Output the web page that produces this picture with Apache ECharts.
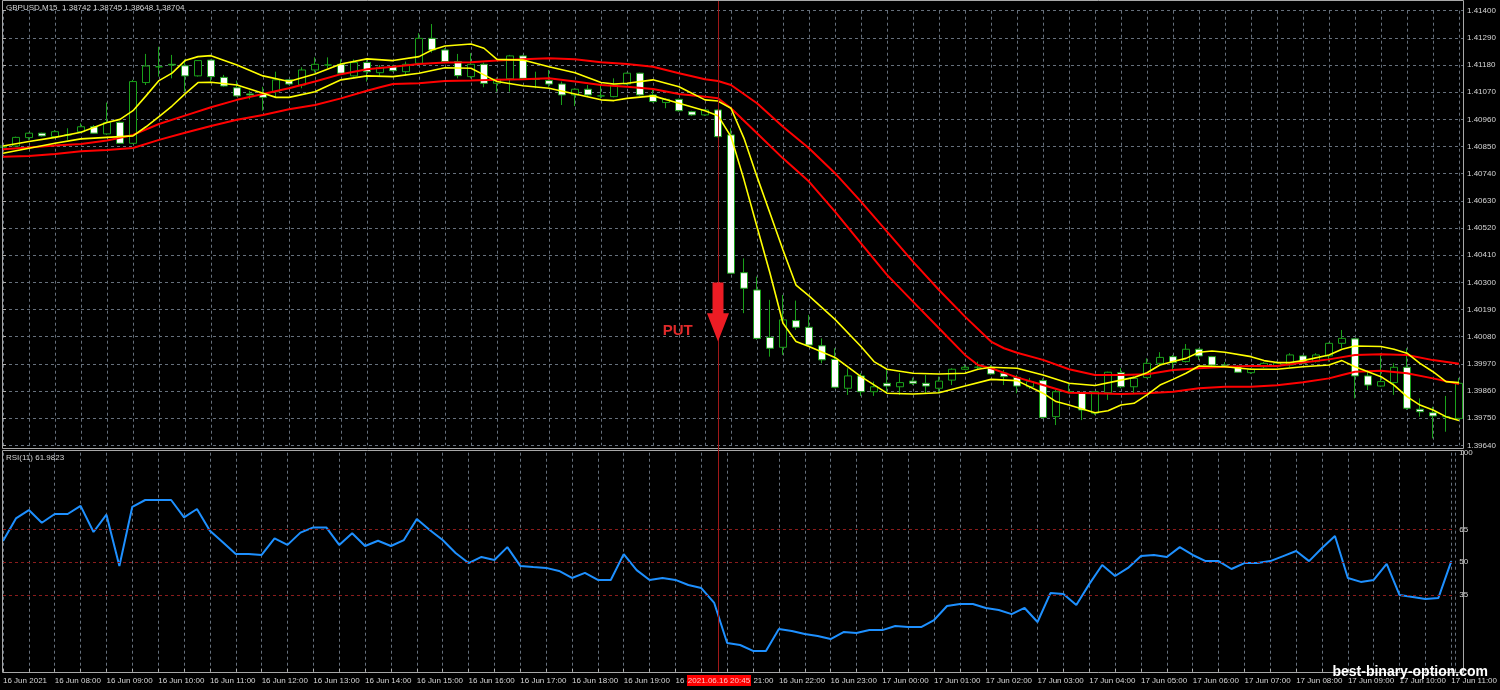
<!DOCTYPE html>
<html><head><meta charset="utf-8">
<script src="https://cdn.jsdelivr.net/npm/echarts@6/dist/echarts.min.js"></script>
<style>html,body{margin:0;padding:0;background:#000;}#c{width:1500px;height:690px;}</style>
</head><body><div id="c"></div>
<script>
// ---------- DATA ----------
const chartTitle = 'GBPUSD,M15  1.38742 1.38745 1.38648 1.38704';
const rsiTitle = 'RSI(11) 61.9823';
const hourLabels = ['16 Jun 2021','16 Jun 08:00','16 Jun 09:00','16 Jun 10:00','16 Jun 11:00','16 Jun 12:00','16 Jun 13:00','16 Jun 14:00','16 Jun 15:00','16 Jun 16:00','16 Jun 17:00','16 Jun 18:00','16 Jun 19:00','16 Jun 20:00','16 Jun 21:00','16 Jun 22:00','16 Jun 23:00','17 Jun 00:00','17 Jun 01:00','17 Jun 02:00','17 Jun 03:00','17 Jun 04:00','17 Jun 05:00','17 Jun 06:00','17 Jun 07:00','17 Jun 08:00','17 Jun 09:00','17 Jun 10:00','17 Jun 11:00'];
const priceMin = 1.39640, priceMax = 1.41400, priceStep = 0.00110;
const rsiLevels = [65, 50, 35];
const rsiLabels = [0, 35, 50, 65, 100];

const open = [1.40847,1.40852,1.40886,1.40904,1.40890,1.40897,1.40910,1.40930,1.40901,1.40948,
1.40863,1.41109,1.41173,1.41183,1.41177,1.41136,1.41200,1.41130,1.41088,1.41063,
1.41063,1.41072,1.41120,1.41099,1.41160,1.41180,1.41183,1.41136,1.41190,1.41149,
1.41173,1.41153,1.41187,1.41288,1.41241,1.41194,1.41133,1.41183,1.41106,1.41124,
1.41217,1.41122,1.41117,1.41103,1.41059,1.41082,1.41055,1.41052,1.41103,1.41147,
1.41059,1.41028,1.41041,1.40991,1.40978,1.40998,1.40897,1.40339,1.40269,1.40077,
1.40037,1.40145,1.40118,1.40043,1.39988,1.39871,1.39921,1.39857,1.39891,1.39877,
1.39900,1.39891,1.39871,1.39904,1.39948,1.39956,1.39956,1.39932,1.39915,1.39877,
1.39902,1.39756,1.39857,1.39851,1.39770,1.39853,1.39934,1.39877,1.39915,1.39972,
1.39999,1.39979,1.40029,1.39999,1.39965,1.39958,1.39934,1.39958,1.39961,1.39965,
1.40002,1.39979,1.40002,1.40053,1.40071,1.39921,1.39880,1.39894,1.39956,1.39786,
1.39772,1.39756,1.39749];
const high = [1.40856,1.40890,1.40906,1.40906,1.40917,1.40924,1.40944,1.40937,1.41028,1.40951,
1.41120,1.41225,1.41254,1.41221,1.41203,1.41200,1.41203,1.41140,1.41117,1.41076,
1.41092,1.41153,1.41122,1.41171,1.41211,1.41211,1.41203,1.41203,1.41200,1.41180,
1.41180,1.41194,1.41309,1.41346,1.41248,1.41225,1.41228,1.41190,1.41130,1.41221,
1.41221,1.41153,1.41160,1.41113,1.41086,1.41099,1.41099,1.41126,1.41149,1.41149,
1.41079,1.41045,1.41044,1.40995,1.41001,1.41001,1.40924,1.40397,1.40323,1.40229,
1.40249,1.40226,1.40168,1.40073,1.40033,1.39952,1.39932,1.39898,1.39945,1.39932,
1.39914,1.39925,1.39918,1.39952,1.39965,1.39979,1.39965,1.39945,1.39925,1.39913,
1.39911,1.39864,1.39891,1.39857,1.39857,1.39938,1.39952,1.39918,1.39992,1.40017,
1.40006,1.40050,1.40033,1.40002,1.39977,1.39965,1.39953,1.39977,1.39981,1.40013,
1.40006,1.40013,1.40056,1.40107,1.40073,1.39945,1.40013,1.39972,1.40033,1.39830,
1.39796,1.39840,1.39913];
const low = [1.40843,1.40849,1.40877,1.40890,1.40887,1.40877,1.40904,1.40901,1.40897,1.40860,
1.40860,1.41099,1.41133,1.41126,1.41072,1.41133,1.41113,1.41092,1.41052,1.41041,
1.40995,1.41049,1.41099,1.41086,1.41149,1.41167,1.41140,1.41133,1.41113,1.41136,
1.41153,1.41136,1.41180,1.41230,1.41187,1.41126,1.41126,1.41090,1.41072,1.41072,
1.41120,1.41086,1.41092,1.41018,1.41014,1.41055,1.41045,1.41049,1.41099,1.41055,
1.41028,1.41005,1.40991,1.40974,1.40974,1.40887,1.40334,1.40175,1.40067,1.39999,
1.40006,1.40107,1.40039,1.39972,1.39871,1.39844,1.39840,1.39840,1.39851,1.39844,
1.39884,1.39851,1.39851,1.39884,1.39945,1.39945,1.39925,1.39884,1.39851,1.39868,
1.39749,1.39722,1.39851,1.39742,1.39763,1.39824,1.39871,1.39851,1.39911,1.39965,
1.39938,1.39975,1.39986,1.39961,1.39957,1.39933,1.39929,1.39953,1.39957,1.39958,
1.39969,1.39975,1.39979,1.40033,1.39830,1.39864,1.39877,1.39844,1.39783,1.39756,
1.39668,1.39695,1.39747];
const close = [1.40852,1.40887,1.40904,1.40893,1.40910,1.40897,1.40930,1.40904,1.40947,1.40863,
1.41113,1.41176,1.41173,1.41180,1.41136,1.41198,1.41133,1.41095,1.41055,1.41059,
1.41049,1.41120,1.41103,1.41160,1.41183,1.41180,1.41147,1.41190,1.41153,1.41171,
1.41157,1.41183,1.41288,1.41241,1.41194,1.41137,1.41183,1.41106,1.41122,1.41217,
1.41126,1.41124,1.41103,1.41059,1.41082,1.41059,1.41055,1.41099,1.41147,1.41059,
1.41032,1.41041,1.40995,1.40978,1.40998,1.40890,1.40337,1.40276,1.40073,1.40033,
1.40148,1.40118,1.40046,1.39986,1.39875,1.39921,1.39857,1.39877,1.39880,1.39894,
1.39891,1.39880,1.39900,1.39948,1.39956,1.39956,1.39929,1.39918,1.39880,1.39898,
1.39753,1.39857,1.39857,1.39783,1.39857,1.39936,1.39877,1.39911,1.39972,1.39996,
1.39975,1.40029,1.40002,1.39965,1.39961,1.39936,1.39948,1.39972,1.39973,1.40006,
1.39972,1.40006,1.40053,1.40073,1.39921,1.39884,1.39898,1.39956,1.39790,1.39776,
1.39759,1.39756,1.39891];

// channel lines: [bar index, price]
const yellowUpper = [[0,1.40852],[2,1.40870],[4,1.40887],[6,1.40908],[8,1.40947],[9,1.40960],[10,1.40995],[11,1.41055],[12,1.41117],[13,1.41147],[14,1.41198],[15,1.41214],[16,1.41218],[18,1.41180],[20,1.41136],[22,1.41113],[24,1.41144],[26,1.41184],[28,1.41205],[30,1.41198],[32,1.41214],[33,1.41241],[34,1.41257],[36,1.41265],[37,1.41248],[38,1.41203],[40,1.41200],[42,1.41173],[44,1.41149],[46,1.41109],[47,1.41103],[48,1.41106],[50,1.41120],[52,1.41092],[54,1.41039],[55,1.41034],[56,1.41005],[57,1.40883],[58,1.40728],[59,1.40580],[60,1.40431],[61,1.40289],[62,1.40245],[64,1.40150],[66,1.40040],[67,1.39979],[68,1.39948],[70,1.39932],[72,1.39929],[74,1.39932],[75,1.39948],[76,1.39956],[78,1.39952],[80,1.39925],[82,1.39891],[84,1.39882],[86,1.39904],[87,1.39915],[88,1.39934],[89,1.39965],[90,1.39979],[91,1.39992],[92,1.40017],[93,1.40022],[94,1.40017],[96,1.39999],[97,1.39983],[98,1.39975],[99,1.39975],[100,1.39983],[102,1.40006],[103,1.40029],[104,1.40042],[106,1.40040],[107,1.40029],[108,1.40013],[109,1.39972],[110,1.39938],[111,1.39898],[112,1.39894]];
const yellowLower = [[0,1.40823],[2,1.40843],[4,1.40863],[6,1.40881],[8,1.40887],[10,1.40893],[11,1.40930],[12,1.40971],[13,1.41014],[14,1.41063],[15,1.41109],[16,1.41110],[18,1.41099],[20,1.41066],[21,1.41049],[22,1.41049],[24,1.41072],[26,1.41120],[28,1.41136],[30,1.41133],[32,1.41147],[34,1.41169],[36,1.41167],[37,1.41140],[38,1.41113],[40,1.41096],[42,1.41086],[44,1.41063],[46,1.41039],[47,1.41036],[48,1.41045],[50,1.41055],[52,1.41025],[54,1.40995],[55,1.40975],[56,1.40890],[57,1.40715],[58,1.40525],[59,1.40337],[60,1.40134],[61,1.40060],[62,1.40040],[64,1.39996],[66,1.39918],[68,1.39851],[70,1.39848],[72,1.39853],[74,1.39880],[76,1.39907],[78,1.39902],[80,1.39851],[81,1.39817],[82,1.39803],[84,1.39772],[85,1.39780],[86,1.39803],[87,1.39810],[88,1.39844],[89,1.39884],[90,1.39907],[91,1.39932],[92,1.39961],[94,1.39958],[96,1.39948],[98,1.39948],[100,1.39958],[102,1.39965],[103,1.39983],[104,1.39958],[105,1.39938],[106,1.39918],[107,1.39884],[108,1.39837],[109,1.39803],[110,1.39783],[111,1.39756],[112,1.39740]];
const redUpper = [[0,1.40839],[2,1.40846],[4,1.40854],[6,1.40860],[8,1.40874],[10,1.40897],[12,1.40941],[14,1.40975],[16,1.41009],[18,1.41039],[20,1.41063],[22,1.41086],[24,1.41113],[26,1.41143],[28,1.41163],[30,1.41173],[32,1.41184],[34,1.41190],[36,1.41191],[38,1.41198],[40,1.41203],[42,1.41207],[44,1.41203],[46,1.41191],[48,1.41184],[50,1.41173],[52,1.41147],[54,1.41122],[55,1.41115],[56,1.41099],[58,1.41025],[60,1.40930],[62,1.40843],[64,1.40742],[66,1.40627],[68,1.40505],[70,1.40384],[72,1.40269],[74,1.40161],[76,1.40060],[77,1.40033],[78,1.40015],[80,1.39986],[82,1.39948],[84,1.39925],[86,1.39925],[88,1.39928],[90,1.39945],[92,1.39952],[94,1.39958],[96,1.39961],[98,1.39961],[100,1.39975],[102,1.39988],[104,1.40006],[106,1.40009],[108,1.40006],[110,1.39985],[112,1.39970]];
const redLower = [[0,1.40809],[2,1.40812],[4,1.40820],[6,1.40831],[8,1.40836],[10,1.40844],[12,1.40877],[14,1.40906],[16,1.40933],[18,1.40958],[20,1.40978],[22,1.41001],[24,1.41018],[26,1.41045],[28,1.41076],[29,1.41090],[30,1.41103],[32,1.41106],[34,1.41115],[36,1.41117],[38,1.41120],[40,1.41122],[42,1.41126],[44,1.41113],[46,1.41099],[48,1.41092],[50,1.41083],[52,1.41063],[54,1.41052],[55,1.41045],[56,1.41005],[58,1.40904],[60,1.40802],[62,1.40708],[64,1.40586],[66,1.40458],[68,1.40330],[70,1.40222],[72,1.40114],[74,1.40006],[75,1.39965],[76,1.39952],[78,1.39915],[80,1.39884],[82,1.39853],[84,1.39851],[86,1.39848],[88,1.39851],[90,1.39857],[92,1.39871],[94,1.39877],[96,1.39877],[98,1.39883],[100,1.39895],[102,1.39911],[103,1.39925],[104,1.39938],[106,1.39942],[108,1.39932],[110,1.39911],[112,1.39888]];

const rsi = [59.7,70.0,73.8,68.0,72.0,72.0,75.7,63.8,71.7,48.3,
75.3,78.4,78.4,78.4,70.5,74.3,64.4,59.1,53.7,53.7,
53.3,60.9,57.9,63.5,65.9,65.9,57.9,63.2,57.4,59.8,
57.4,60.1,69.7,64.7,60.1,54.2,49.6,52.4,51.0,56.9,
48.3,47.8,47.4,46.0,42.8,45.1,41.9,41.9,53.7,46.4,
41.9,42.8,41.9,39.6,38.2,31.4,13.1,12.2,9.5,9.5,
19.5,18.6,17.2,16.3,14.9,18.1,17.7,19.0,19.0,20.9,
20.4,20.4,23.6,30.0,30.9,30.9,29.1,28.2,26.3,29.1,
22.7,35.9,35.5,30.5,40.0,48.7,43.7,47.4,52.8,53.3,
52.4,56.9,53.3,50.5,50.5,46.9,49.6,49.6,50.5,52.8,
55.1,50.5,56.5,62.0,42.8,41.0,41.9,49.2,35.0,34.1,
33.2,33.7,50.5];

// signal annotation
const signalBar = 55;
const signalTime = '2021.06.16 20:45';
const signalText = 'PUT';
const arrowTopPrice = 1.40299, arrowNeckPrice = 1.40175, arrowTipPrice = 1.40060;
const putBar = 51.9, putPrice = 1.40103;
const watermark = 'best-binary-option.com';

// ---------- CHART ----------
const GRID = '#66707c';
const GREEN = '#1aa01a';
const TXT = '#d6d6d6';
const FONT = '"Liberation Sans", Arial, sans-serif';
const XMAX = 1460 / 13;

const candles = open.map((o, i) => [i, o, close[i], low[i], high[i]]);
const rsiData = rsi.map((v, i) => [i, v]);

function xLabel(v) {
  if (Math.abs(v - Math.round(v)) > 1e-6) return '';
  const r = Math.round(v);
  return r % 4 === 0 && hourLabels[r / 4] ? hourLabels[r / 4] : '';
}

const chart = echarts.init(document.getElementById('c'));
const option = {
  backgroundColor: '#000',
  animation: false,
  grid: [
    { left: 3, width: 1460, top: 10.7, height: 434.6 },
    { left: 3, width: 1460, top: 452.7, height: 219 }
  ],
  xAxis: [
    { type: 'value', gridIndex: 0, min: 0, max: XMAX, interval: 2,
      axisLine: { show: false }, axisTick: { show: false }, axisLabel: { show: false },
      splitLine: { show: true, lineStyle: { color: GRID, type: [3, 3], width: 1 } } },
    { type: 'value', gridIndex: 1, min: 0, max: XMAX, interval: 2,
      axisLine: { show: false },
      axisTick: { show: true, inside: true, length: 3, lineStyle: { color: '#b0b0b0' } },
      axisLabel: { show: true, formatter: xLabel, align: 'left', color: TXT, fontSize: 8, fontFamily: FONT, margin: 5 },
      splitLine: { show: true, lineStyle: { color: GRID, type: [3, 3], width: 1 } } }
  ],
  yAxis: [
    { type: 'value', gridIndex: 0, position: 'right', min: priceMin, max: priceMax, interval: priceStep,
      axisLine: { show: false },
      axisTick: { show: true, length: 3, lineStyle: { color: '#b0b0b0' } },
      axisLabel: { formatter: v => v.toFixed(5), color: TXT, fontSize: 8, fontFamily: FONT, margin: 4 },
      splitLine: { show: true, lineStyle: { color: GRID, type: [3, 3], width: 1 } } },
    { type: 'value', gridIndex: 1, position: 'right', min: 0, max: 100, interval: 5,
      axisLine: { show: false }, axisTick: { show: false },
      axisLabel: { formatter: v => rsiLabels.includes(v) ? String(v) : '', color: TXT, fontSize: 8, fontFamily: FONT, margin: 4 },
      splitLine: { show: false } }
  ],
  series: [
    { type: 'candlestick', xAxisIndex: 0, yAxisIndex: 0, data: candles,
      encode: { x: 0, y: [1, 2, 3, 4] }, barWidth: 7,
      itemStyle: { color: '#000', color0: '#fff', borderColor: GREEN, borderColor0: GREEN, borderWidth: 1 },
      z: 2 },
    { type: 'line', xAxisIndex: 0, yAxisIndex: 0, data: redUpper, symbol: 'none', lineStyle: { color: '#ff0000', width: 2 }, z: 3 },
    { type: 'line', xAxisIndex: 0, yAxisIndex: 0, data: redLower, symbol: 'none', lineStyle: { color: '#ff0000', width: 2 }, z: 3 },
    { type: 'line', xAxisIndex: 0, yAxisIndex: 0, data: yellowUpper, symbol: 'none', lineStyle: { color: '#ffff00', width: 1.6 }, z: 4 },
    { type: 'line', xAxisIndex: 0, yAxisIndex: 0, data: yellowLower, symbol: 'none', lineStyle: { color: '#ffff00', width: 1.6 }, z: 4 },
    { type: 'line', xAxisIndex: 1, yAxisIndex: 1, data: rsiData, symbol: 'none',
      lineStyle: { color: '#1e90ff', width: 2 }, z: 4,
      markLine: { silent: true, symbol: 'none', label: { show: false },
        lineStyle: { color: '#8a1c1c', type: [3, 3], width: 1 },
        data: rsiLevels.map(v => ({ yAxis: v })) } }
  ]
};
chart.setOption(option);

const X = i => chart.convertToPixel({ xAxisIndex: 0 }, i);
const Y = p => chart.convertToPixel({ yAxisIndex: 0 }, p);
const sx = X(signalBar);
const yTop = Y(arrowTopPrice), yNeck = Y(arrowNeckPrice), yTip = Y(arrowTipPrice);

chart.setOption({
  graphic: [
    { type: 'rect', z: 50, silent: true, shape: { x: 2.5, y: 0.5, width: 1461, height: 448 }, style: { fill: null, stroke: '#a8a8a8', lineWidth: 1 } },
    { type: 'rect', z: 50, silent: true, shape: { x: 2.5, y: 450.5, width: 1461, height: 222 }, style: { fill: null, stroke: '#a8a8a8', lineWidth: 1 } },
    { type: 'text', z: 60, left: 6, top: 4, style: { text: chartTitle, fill: TXT, font: '8px ' + FONT } },
    { type: 'text', z: 60, left: 6, top: 454, style: { text: rsiTitle, fill: TXT, font: '8px ' + FONT } },
    { type: 'line', z: 55, silent: true, shape: { x1: Math.round(sx) + 0.5, y1: 1, x2: Math.round(sx) + 0.5, y2: 672 }, style: { stroke: '#a01818', lineWidth: 1 } },
    { type: 'polygon', z: 60, silent: true, shape: { points: [[sx - 5.5, yTop], [sx + 5.5, yTop], [sx + 5.5, yNeck], [sx + 11, yNeck], [sx, yTip], [sx - 11, yNeck], [sx - 5.5, yNeck]] }, style: { fill: '#ed1c24' } },
    { type: 'text', z: 60, x: X(putBar), y: Y(putPrice), style: { text: signalText, fill: '#e02a2a', font: 'bold 15px ' + FONT, textAlign: 'center', textVerticalAlign: 'middle' } },
    { type: 'rect', z: 60, shape: { x: sx - 31, y: 675, width: 64, height: 11 }, style: { fill: '#ff0000' } },
    { type: 'text', z: 61, x: sx + 1, y: 680.5, style: { text: signalTime, fill: '#ffc4c4', font: '8px ' + FONT, textAlign: 'center', textVerticalAlign: 'middle' } },
    { type: 'text', z: 62, x: 1488, y: 672, style: { text: watermark, fill: '#ffffff', font: 'bold 14px ' + FONT, textAlign: 'right', textVerticalAlign: 'middle' } }
  ]
});
</script>
</body></html>
